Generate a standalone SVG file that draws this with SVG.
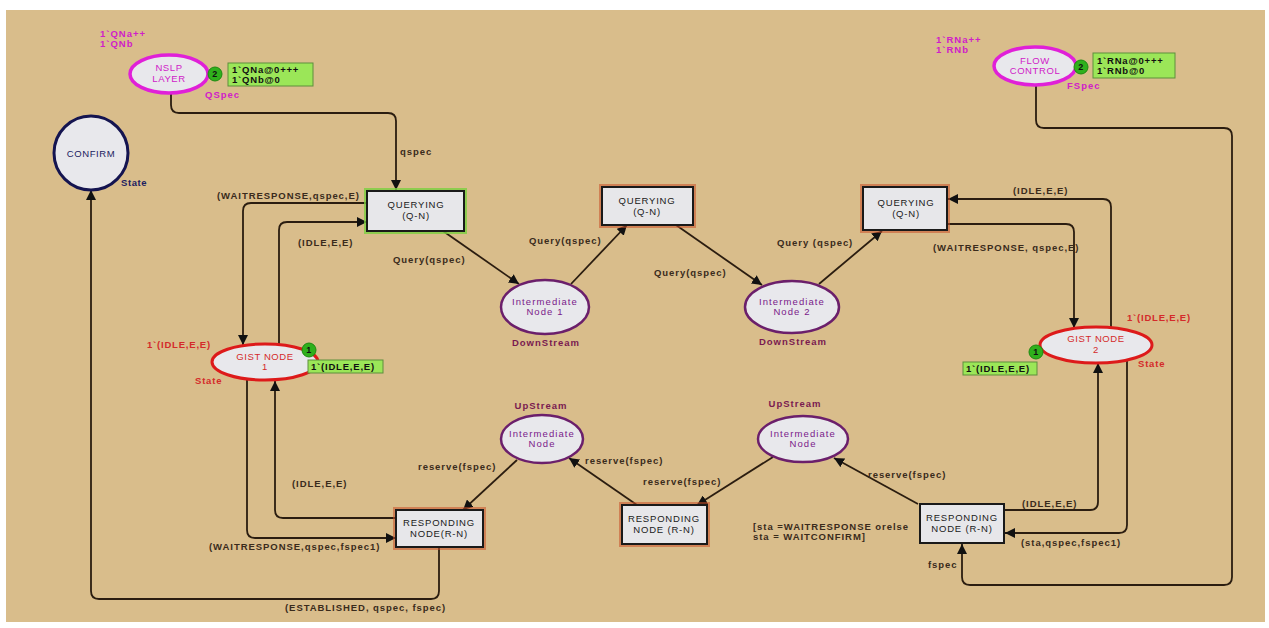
<svg xmlns="http://www.w3.org/2000/svg" width="1269" height="628" viewBox="0 0 1269 628">
<style>
text{font-family:"Liberation Sans",Arial,sans-serif;font-size:9.5px;letter-spacing:0.6px}
.lbl{font-weight:bold;fill:#3a2b1c;letter-spacing:0.95px}
.arc{fill:none;stroke:#2b1d10;stroke-width:1.8}
.box{fill:#e7e7ea;stroke:#1a1a1a;stroke-width:2}
.glowr{fill:none;stroke:#c8502a;stroke-width:6;stroke-opacity:0.55}
.glowg{fill:none;stroke:#7ad040;stroke-width:6;stroke-opacity:0.8}
.bt{fill:#202020;text-anchor:middle;letter-spacing:0.8px}
.place{fill:#e8e8ec}
.gist{stroke:#dd1a1a;stroke-width:3}
.gt{fill:#d42a2a;text-anchor:middle}
.red{fill:#d42a2a;font-weight:bold;letter-spacing:0.8px}
.inter{stroke:#6b1f6b;stroke-width:2.5}
.it{fill:#7a1a8a;text-anchor:middle;letter-spacing:1.1px}
.dir{fill:#7a1a50;font-weight:bold;text-anchor:middle;letter-spacing:1px}
.mag{stroke:#e020d8;stroke-width:3.5}
.mt{fill:#d020c8;text-anchor:middle}
.mg{fill:#d020c8;font-weight:bold;letter-spacing:1px}
.tok{fill:#9be658;stroke:#5e8f3c;stroke-width:1}
.tt{fill:#111;font-weight:bold;letter-spacing:0.8px}
.cnt{fill:#2fb01c;stroke:#1d8a10;stroke-width:1}
.ct{fill:#111;font-weight:bold;text-anchor:middle;font-size:9px}
</style>
<defs>
<marker id="ah" viewBox="0 0 10 10" refX="10" refY="5" markerWidth="10" markerHeight="10" markerUnits="userSpaceOnUse" orient="auto">
<path d="M0,0 L10,5 L0,10 z" fill="#111"/>
</marker>
</defs>
<rect x="0" y="0" width="1269" height="628" fill="#ffffff"/>
<rect x="6" y="10" width="1259" height="612" fill="#d9bd8b"/>

<g id="connectors">
<path class="arc" d="M171,93 V105 Q171,113 179,113 H388 Q396,113 396,121 V190" marker-end="url(#ah)"/>
<path class="arc" d="M367,203 H251 Q243,203 243,211 V345" marker-end="url(#ah)"/>
<path class="arc" d="M279,345 V230 Q279,222 287,222 H367" marker-end="url(#ah)"/>
<path class="arc" d="M443,231 L519,284" marker-end="url(#ah)"/>
<path class="arc" d="M571,284 L627,225" marker-end="url(#ah)"/>
<path class="arc" d="M676,225 L762,285" marker-end="url(#ah)"/>
<path class="arc" d="M819,284 L882,231" marker-end="url(#ah)"/>
<path class="arc" d="M947,224 H1066 Q1074,224 1074,232 V328" marker-end="url(#ah)"/>
<path class="arc" d="M1111,328 V207 Q1111,199 1103,199 H948" marker-end="url(#ah)"/>
<path class="arc" d="M1036,85 V120 Q1036,128 1044,128 H1224 Q1232,128 1232,136 V577 Q1232,585 1224,585 H970 Q962,585 962,577 V544" marker-end="url(#ah)"/>
<path class="arc" d="M1004,510 H1090 Q1098,510 1098,502 V363" marker-end="url(#ah)"/>
<path class="arc" d="M1127,360 V525 Q1127,533 1119,533 H1005" marker-end="url(#ah)"/>
<path class="arc" d="M918,504 L834,458" marker-end="url(#ah)"/>
<path class="arc" d="M773,457 L697,505" marker-end="url(#ah)"/>
<path class="arc" d="M637,505 L569,458" marker-end="url(#ah)"/>
<path class="arc" d="M517,460 L463,510" marker-end="url(#ah)"/>
<path class="arc" d="M396,518 H283 Q275,518 275,510 V381" marker-end="url(#ah)"/>
<path class="arc" d="M247,380 V530 Q247,538 255,538 H396" marker-end="url(#ah)"/>
<path class="arc" d="M439,547 V591 Q439,599 431,599 H99 Q91,599 91,591 V190" marker-end="url(#ah)"/>

<text class="lbl" x="400" y="155">qspec</text>
<text class="lbl" x="217" y="199">(WAITRESPONSE,qspec,E)</text>
<text class="lbl" x="298" y="246">(IDLE,E,E)</text>
<text class="lbl" x="393" y="263">Query(qspec)</text>
<text class="lbl" x="529" y="244">Query(qspec)</text>
<text class="lbl" x="654" y="276">Query(qspec)</text>
<text class="lbl" x="777" y="246">Query (qspec)</text>
<text class="lbl" x="1013" y="194">(IDLE,E,E)</text>
<text class="lbl" x="933" y="251">(WAITRESPONSE, qspec,E)</text>
<text class="lbl" x="418" y="470">reserve(fspec)</text>
<text class="lbl" x="585" y="464">reserve(fspec)</text>
<text class="lbl" x="643" y="485">reserve(fspec)</text>
<text class="lbl" x="868" y="478">reserve(fspec)</text>
<text class="lbl" x="292" y="487">(IDLE,E,E)</text>
<text class="lbl" x="209" y="550">(WAITRESPONSE,qspec,fspec1)</text>
<text class="lbl" x="285" y="611">(ESTABLISHED, qspec, fspec)</text>
<text class="lbl" x="753" y="530">[sta =WAITRESPONSE orelse</text>
<text class="lbl" x="753" y="540">sta = WAITCONFIRM]</text>
<text class="lbl" x="1022" y="507">(IDLE,E,E)</text>
<text class="lbl" x="1021" y="546">(sta,qspec,fspec1)</text>
<text class="lbl" x="928" y="568">fspec</text>
</g>

<g id="nslp-layer">
<text class="mg" x="100" y="37">1`QNa++</text>
<text class="mg" x="100" y="47">1`QNb</text>
<ellipse class="place mag" cx="169" cy="74" rx="39" ry="19"/>
<text class="mt" x="169" y="71">NSLP</text>
<text class="mt" x="169" y="82">LAYER</text>
<circle class="cnt" cx="215" cy="74" r="7"/>
<text class="ct" x="215" y="77">2</text>
<rect class="tok" x="228" y="63" width="85" height="23"/>
<text class="tt" x="232" y="73">1`QNa@0+++</text>
<text class="tt" x="232" y="83">1`QNb@0</text>
<text class="mg" x="205" y="98">QSpec</text>
</g>

<g id="flow-control">
<text class="mg" x="936" y="43">1`RNa++</text>
<text class="mg" x="936" y="53">1`RNb</text>
<ellipse class="place mag" cx="1035" cy="66" rx="41" ry="19"/>
<text class="mt" x="1035" y="64">FLOW</text>
<text class="mt" x="1035" y="74">CONTROL</text>
<circle class="cnt" cx="1081" cy="67" r="7"/>
<text class="ct" x="1081" y="70">2</text>
<rect class="tok" x="1093" y="53" width="82" height="25"/>
<text class="tt" x="1097" y="64">1`RNa@0+++</text>
<text class="tt" x="1097" y="74">1`RNb@0</text>
<text class="mg" x="1067" y="89">FSpec</text>
</g>

<g id="confirm">
<circle class="place" cx="91" cy="153" r="37" stroke="#141450" stroke-width="3"/>
<text x="91" y="157" fill="#202060" text-anchor="middle">CONFIRM</text>
<text x="121" y="186" fill="#202060" font-weight="bold">State</text>
</g>

<g id="querying-1">
<rect class="glowg" x="367" y="191" width="97" height="40"/>
<rect class="box" x="367" y="191" width="97" height="40" stroke="#1d5a12"/>
<text class="bt" x="416" y="208">QUERYING</text>
<text class="bt" x="416" y="219">(Q-N)</text>
</g>

<g id="querying-2">
<rect class="glowr" x="602" y="187" width="91" height="38"/>
<rect class="box" x="602" y="187" width="91" height="38"/>
<text class="bt" x="647" y="204">QUERYING</text>
<text class="bt" x="647" y="215">(Q-N)</text>
</g>

<g id="querying-3">
<rect class="glowr" x="863" y="187" width="84" height="43"/>
<rect class="box" x="863" y="187" width="84" height="43"/>
<text class="bt" x="906" y="206">QUERYING</text>
<text class="bt" x="906" y="217">(Q-N)</text>
</g>

<g id="intermediate-node-1">
<ellipse class="place inter" cx="545" cy="307" rx="44" ry="27"/>
<text class="it" x="545" y="305">Intermediate</text>
<text class="it" x="545" y="315">Node 1</text>
<text class="dir" x="546" y="346">DownStream</text>
</g>

<g id="intermediate-node-2">
<ellipse class="place inter" cx="792" cy="307" rx="47" ry="26"/>
<text class="it" x="792" y="305">Intermediate</text>
<text class="it" x="792" y="315">Node 2</text>
<text class="dir" x="793" y="345">DownStream</text>
</g>

<g id="gist-node-1">
<text class="red" x="147" y="348">1`(IDLE,E,E)</text>
<ellipse class="place gist" cx="265" cy="362" rx="53" ry="18"/>
<text class="gt" x="265" y="360">GIST NODE</text>
<text class="gt" x="265" y="370">1</text>
<text class="red" x="195" y="384">State</text>
<circle class="cnt" cx="309" cy="350" r="7"/>
<text class="ct" x="309" y="353">1</text>
<rect class="tok" x="308" y="360" width="75" height="13"/>
<text class="tt" x="311" y="370">1`(IDLE,E,E)</text>
</g>

<g id="gist-node-2">
<text class="red" x="1127" y="321">1`(IDLE,E,E)</text>
<ellipse class="place gist" cx="1096" cy="345" rx="56" ry="18"/>
<text class="gt" x="1096" y="342">GIST NODE</text>
<text class="gt" x="1096" y="353">2</text>
<text class="red" x="1138" y="367">State</text>
<circle class="cnt" cx="1036" cy="352" r="7"/>
<text class="ct" x="1036" y="355">1</text>
<rect class="tok" x="963" y="362" width="74" height="13"/>
<text class="tt" x="966" y="372">1`(IDLE,E,E)</text>
</g>

<g id="upstream-node-1">
<text class="dir" x="541" y="409">UpStream</text>
<ellipse class="place inter" cx="542" cy="439" rx="41" ry="24"/>
<text class="it" x="542" y="437">Intermediate</text>
<text class="it" x="542" y="447">Node</text>
</g>

<g id="upstream-node-2">
<text class="dir" x="795" y="407">UpStream</text>
<ellipse class="place inter" cx="803" cy="439" rx="45" ry="23"/>
<text class="it" x="803" y="437">Intermediate</text>
<text class="it" x="803" y="447">Node</text>
</g>

<g id="responding-1">
<rect class="glowr" x="396" y="510" width="87" height="37"/>
<rect class="box" x="396" y="510" width="87" height="37"/>
<text class="bt" x="439" y="526">RESPONDING</text>
<text class="bt" x="439" y="537">NODE(R-N)</text>
</g>

<g id="responding-2">
<rect class="glowr" x="622" y="505" width="85" height="39"/>
<rect class="box" x="622" y="505" width="85" height="39"/>
<text class="bt" x="664" y="522">RESPONDING</text>
<text class="bt" x="664" y="533">NODE (R-N)</text>
</g>

<g id="responding-3">
<rect class="box" x="920" y="504" width="84" height="39"/>
<text class="bt" x="962" y="521">RESPONDING</text>
<text class="bt" x="962" y="532">NODE (R-N)</text>
</g>
</svg>
